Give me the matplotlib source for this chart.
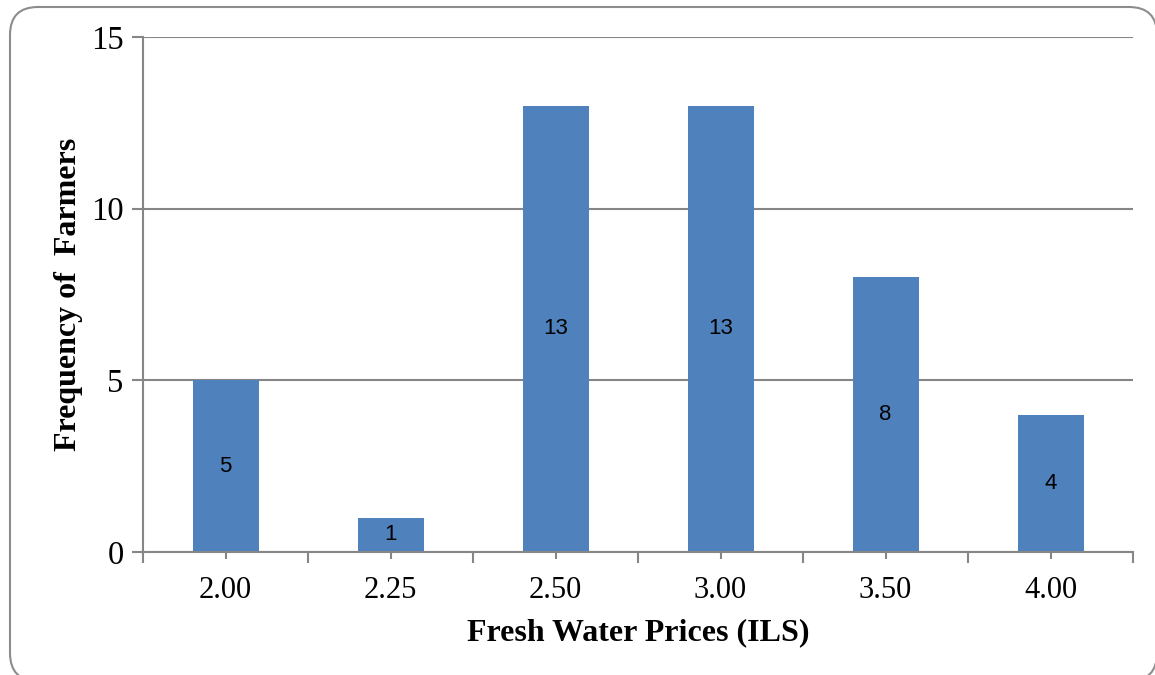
import matplotlib
matplotlib.use("Agg")
import matplotlib.pyplot as plt
from matplotlib.patches import FancyBboxPatch

# Fresh water price survey: how many farmers pay each price
prices = ["2.00", "2.25", "2.50", "3.00", "3.50", "4.00"]
farmers = [5, 1, 13, 13, 8, 4]
y_ticks = [0, 5, 10, 15]

BAR_COLOR = "#4F81BD"
LINE_COLOR = "#868686"
SERIF = "Liberation Serif"

W, H = 1155, 675
fig = plt.figure(figsize=(W / 100, H / 100), dpi=100)

# rounded chart-area frame, drawn on a pixel-scaled background axes
bg = fig.add_axes([0, 0, 1, 1], zorder=-1)
bg.set_xlim(0, W)
bg.set_ylim(H, 0)
bg.axis("off")
bg.add_patch(FancyBboxPatch((10, 7), 1147, 674,
                            boxstyle="round,pad=0,rounding_size=28",
                            facecolor="white", edgecolor="#8c8c8c",
                            linewidth=1.5, clip_on=False))

ax = fig.add_axes([143 / W, 1 - 552 / H, 990 / W, 515 / H])
ax.set_facecolor("none")

x = list(range(len(prices)))
bars = ax.bar(x, farmers, width=0.4, color=BAR_COLOR, zorder=3)

for xi, v in zip(x, farmers):
    ax.text(xi, v / 2, str(v), ha="center", va="center",
            fontsize=16, family="Liberation Sans", zorder=4)

ax.set_xlim(-0.5, len(prices) - 0.5)
ax.set_ylim(0, 15)
ax.set_yticks(y_ticks)
ax.set_yticklabels([str(t) for t in y_ticks], family=SERIF, fontsize=23.5)
ax.yaxis.grid(True, color=LINE_COLOR, linewidth=1.5, zorder=1)

# category labels at centres, tick marks on category boundaries
ax.set_xticks(x)
ax.set_xticklabels(prices, family=SERIF, fontsize=22)
ax.set_xticks([i - 0.5 for i in range(len(prices) + 1)], minor=True)
ax.tick_params(axis="x", which="major", length=5, width=1.5,
               color=LINE_COLOR, pad=12)
ax.tick_params(axis="x", which="minor", length=8, width=1.5,
               color=LINE_COLOR)
ax.tick_params(axis="y", length=8, width=1.5, color=LINE_COLOR, pad=6)

for side in ["top", "right"]:
    ax.spines[side].set_visible(False)
for side in ["left", "bottom"]:
    ax.spines[side].set_color(LINE_COLOR)
    ax.spines[side].set_linewidth(1.5)
    ax.spines[side].set_zorder(5)

ax.set_xlabel("Fresh Water Prices (ILS)", family=SERIF, fontsize=23,
              fontweight="bold", labelpad=10)
ax.set_ylabel("Frequency of  Farmers", family=SERIF, fontsize=23,
              fontweight="bold", labelpad=6)

fig.savefig("out.png", dpi=100)
